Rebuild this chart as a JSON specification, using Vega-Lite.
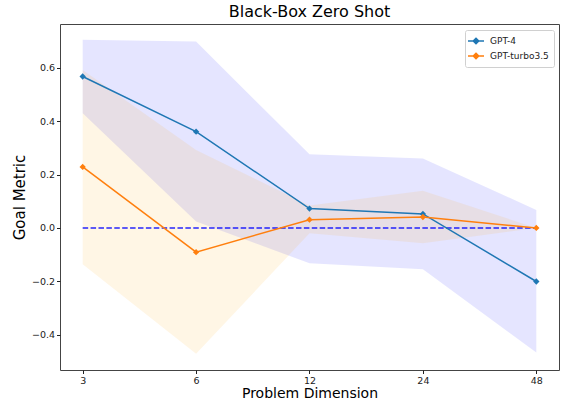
{
  "$schema": "https://vega.github.io/schema/vega-lite/v6.json",
  "width": 499,
  "height": 346,
  "autosize": {"type": "none"},
  "padding": {"left": 60, "top": 24, "right": 3, "bottom": 34},
  "background": "white",
  "title": {"text": "Black-Box Zero Shot", "fontSize": 16, "font": "DejaVu Sans", "fontWeight": "normal", "offset": 4, "color": "#000"},
  "config": {
    "view": {"stroke": "#444", "strokeWidth": 1},
    "font": "DejaVu Sans",
    "axis": {"domain": false, "grid": false, "tickColor": "#222", "tickSize": 3.5, "labelColor": "#222", "labelFontSize": 9.5, "titleFontSize": 14, "titleFontWeight": "normal", "titleColor": "#000", "labelFont": "DejaVu Sans", "titleFont": "DejaVu Sans"}
  },
  "resolve": {"legend": {"fill": "independent", "color": "independent"}},
  "data": {
    "values": [
      {"model": "GPT-4", "dim": 3, "mean": 0.568, "lo": 0.43, "hi": 0.706},
      {"model": "GPT-4", "dim": 6, "mean": 0.361, "lo": 0.024, "hi": 0.699},
      {"model": "GPT-4", "dim": 12, "mean": 0.0725, "lo": -0.1325, "hi": 0.276},
      {"model": "GPT-4", "dim": 24, "mean": 0.0525, "lo": -0.155, "hi": 0.26},
      {"model": "GPT-4", "dim": 48, "mean": -0.201, "lo": -0.4675, "hi": 0.0675},
      {"model": "GPT-turbo3.5", "dim": 3, "mean": 0.229, "lo": -0.136, "hi": 0.5925},
      {"model": "GPT-turbo3.5", "dim": 6, "mean": -0.091, "lo": -0.4725, "hi": 0.2925},
      {"model": "GPT-turbo3.5", "dim": 12, "mean": 0.031, "lo": -0.02, "hi": 0.084},
      {"model": "GPT-turbo3.5", "dim": 24, "mean": 0.041, "lo": -0.0575, "hi": 0.139},
      {"model": "GPT-turbo3.5", "dim": 48, "mean": 0.0, "lo": 0.0, "hi": 0.0}
    ]
  },
  "encoding": {
    "x": {
      "field": "dim", "type": "quantitative",
      "scale": {"type": "log", "base": 2, "domain": [2.6117, 55.14], "nice": false},
      "axis": {"values": [3, 6, 12, 24, 48], "format": "d", "title": "Problem Dimension", "titlePadding": 1, "labelPadding": 2}
    }
  },
  "layer": [
    {
      "mark": {"type": "area", "opacity": 0.1},
      "encoding": {
        "y": {"field": "lo", "type": "quantitative", "scale": {"domain": [-0.533, 0.765], "nice": false, "zero": false},
          "axis": {"values": [-0.4, -0.2, 0, 0.2, 0.4, 0.6], "format": ".1f", "labelExpr": "replace(datum.label, '-', '\u2212')", "title": "Goal Metric", "titleFontSize": 15, "titlePadding": 4, "labelPadding": 2}},
        "y2": {"field": "hi"},
        "fill": {"field": "model", "type": "nominal", "scale": {"domain": ["GPT-4", "GPT-turbo3.5"], "range": ["#0000ff", "#ffa500"]}, "legend": null},
        "detail": {"field": "model"}
      }
    },
    {
      "data": {"values": [{"x1": 3, "x2": 48, "y": 0}]},
      "mark": {"type": "rule", "color": "#0000ff", "strokeWidth": 1.5, "strokeDash": [5.5, 2.4], "opacity": 0.85},
      "encoding": {
        "x": {"field": "x1", "type": "quantitative"},
        "x2": {"field": "x2"},
        "y": {"field": "y", "type": "quantitative"}
      }
    },
    {
      "mark": {"type": "line", "strokeWidth": 1.5, "point": {"shape": "diamond", "filled": true, "size": 40, "opacity": 1}},
      "encoding": {
        "y": {"field": "mean", "type": "quantitative"},
        "color": {
          "field": "model", "type": "nominal",
          "scale": {"domain": ["GPT-4", "GPT-turbo3.5"], "range": ["#1f77b4", "#ff7f0e"]},
          "legend": {
            "title": null, "orient": "none", "legendX": 405, "legendY": 6,
            "strokeColor": "#d0d0d0", "fillColor": "white", "cornerRadius": 2, "padding": 5,
            "labelFontSize": 9, "labelColor": "#222", "labelFont": "DejaVu Sans",
            "symbolType": "M-1.6,0L1.6,0M0,-0.55L0.55,0L0,0.55L-0.55,0Z",
            "symbolSize": 100, "symbolStrokeWidth": 1.5, "rowPadding": 3, "labelOffset": 8
          }
        }
      }
    }
  ]
}
